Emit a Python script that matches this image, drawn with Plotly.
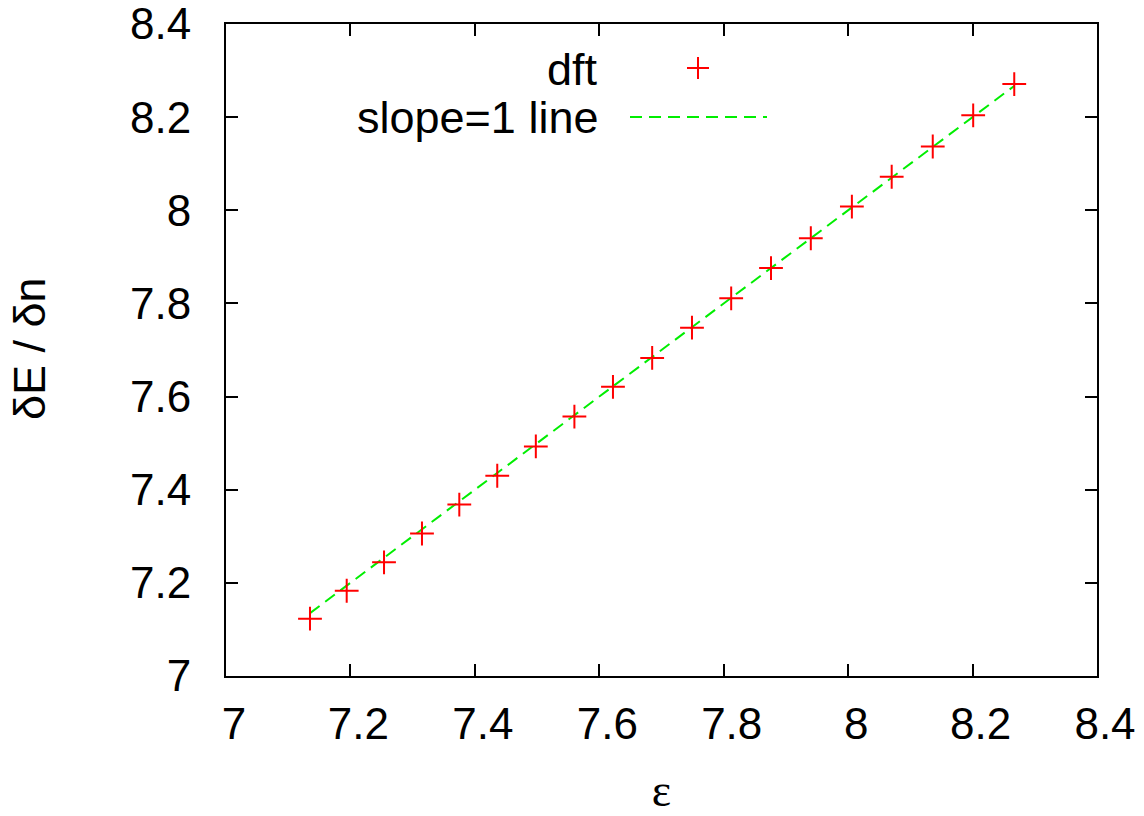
import plotly.graph_objects as go

# data
eps = [7.135, 7.194, 7.254, 7.315, 7.375, 7.436, 7.498, 7.560, 7.622, 7.685,
       7.749, 7.812, 7.876, 7.940, 8.006, 8.070, 8.136, 8.201, 8.267]
dEdn = [7.123, 7.183, 7.244, 7.306, 7.368, 7.430, 7.493, 7.557, 7.621, 7.683,
        7.748, 7.811, 7.876, 7.940, 8.008, 8.072, 8.137, 8.204, 8.271]
line_x = [eps[0], eps[-1]]
line_y = [eps[0], eps[-1]]
ticks = [7, 7.2, 7.4, 7.6, 7.8, 8, 8.2, 8.4]
tick_text = ["7", "7.2", "7.4", "7.6", "7.8", "8", "8.2", "8.4"]
legend_names = ["dft", "slope=1 line"]
x_title = "ε"
y_title = "δE / δn"

FONT = "Liberation Sans, Arial, sans-serif"
OFF = 0  # body margin removed by post_script
W, H = 1144 - OFF, 816 - OFF
# plot area in page pixels: x 226..1097, y 24..676
L, R, T, B = 226 - OFF, 1144 - 1097, 24 - OFF, 816 - 676
pw, ph = W - L - R, H - T - B

def px(xpage):
    return (xpage - OFF - L) / pw

def py(ypage):
    return (H - B - (ypage - OFF)) / ph

fig = go.Figure()
fig.add_trace(go.Scatter(
    x=line_x, y=line_y, mode="lines", name=legend_names[1],
    line=dict(color="#00ee00", width=2, dash="12px,7px"), showlegend=False))
fig.add_trace(go.Scatter(
    x=eps, y=dEdn, mode="markers", name=legend_names[0],
    marker=dict(symbol="cross-thin", size=17, line=dict(color="#ff0000", width=2)),
    showlegend=False))

axis_common = dict(
    range=[7, 8.4], tickvals=ticks, ticktext=tick_text,
    ticks="inside", ticklen=12, tickwidth=2, tickcolor="black",
    showline=True, linecolor="black", linewidth=2, mirror="ticks",
    showgrid=False, zeroline=False, automargin=False,
    ticklabeloverflow="allow",
    tickfont=dict(family=FONT, size=44, color="black"),
)

fig.update_layout(
    width=W, height=H,
    margin=dict(l=L, r=R, t=T, b=B),
    paper_bgcolor="white", plot_bgcolor="white",
    xaxis=dict(**axis_common, ticklabelstandoff=8, ticklabelshift=8,
               title=dict(text=x_title, font=dict(family="Liberation Serif, serif", size=46, color="black"),
                          standoff=30)),
    yaxis=dict(**axis_common, ticklabelstandoff=24),
    showlegend=False,
)

# y-axis title as rotated annotation
fig.add_annotation(xref="paper", yref="paper", x=px(29), y=py(349), text=y_title, textangle=-90,
                   showarrow=False, xanchor="center", yanchor="middle",
                   font=dict(family=FONT, size=45, color="black"))

# gnuplot-style key: text right-aligned, sample to its right
ann_font = dict(family=FONT, size=45, color="black")
fig.add_annotation(xref="paper", yref="paper", x=px(600), y=py(69), text=legend_names[0],
                   showarrow=False, xanchor="right", yanchor="middle", font=ann_font)
fig.add_annotation(xref="paper", yref="paper", x=px(600), y=py(118), text=legend_names[1],
                   showarrow=False, xanchor="right", yanchor="middle", font=ann_font)
# plus sample
fig.add_shape(type="line", xref="paper", yref="paper", x0=px(687), x1=px(709), y0=py(68), y1=py(68),
              line=dict(color="#ff0000", width=2))
fig.add_shape(type="line", xref="paper", yref="paper", x0=px(698), x1=px(698), y0=py(57), y1=py(79),
              line=dict(color="#ff0000", width=2))
# dashed sample
fig.add_shape(type="line", xref="paper", yref="paper", x0=px(630), x1=px(767), y0=py(117), y1=py(117),
              line=dict(color="#00ee00", width=2, dash="12px,7px"))

fig.write_html("out.html", config={"displayModeBar": False},
               post_script="document.body.style.margin='0';")
